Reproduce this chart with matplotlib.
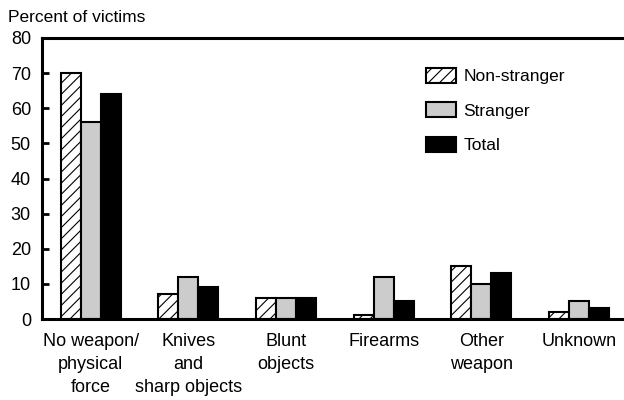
import numpy as np
import matplotlib.pyplot as plt

plt.rcParams['font.family'] = ['Liberation Sans', 'DejaVu Sans']
plt.rcParams['hatch.linewidth'] = 0.8

categories = ['No weapon/\nphysical\nforce', 'Knives\nand\nsharp objects', 'Blunt\nobjects',
              'Firearms', 'Other\nweapon', 'Unknown']
non_stranger = [70, 7, 6, 1, 15, 2]
stranger = [56, 12, 6, 12, 10, 5]
total = [64, 9, 6, 5, 13, 3]

fig = plt.figure(figsize=(6.24, 4), dpi=100)
ax = fig.add_axes([0.0673, 0.2025, 0.9327, 0.7025])

x = np.arange(len(categories))
w = 0.205
ax.bar(x - w, non_stranger, w, color='white', edgecolor='black', hatch='///', linewidth=1.5, label='Non-stranger')
ax.bar(x, stranger, w, color='#cccccc', edgecolor='black', linewidth=1.5, label='Stranger')
ax.bar(x + w, total, w, color='black', edgecolor='black', linewidth=1.5, label='Total')

ax.set_xlim(-0.5, 5.463)
ax.set_ylim(0, 80)
ax.set_yticks(range(0, 81, 10))
ax.set_xticks(x)
ax.set_xticklabels(categories, fontsize=13, linespacing=1.47, va='top')
ax.tick_params(axis='x', length=0, pad=10)
ax.tick_params(axis='y', direction='in', length=5, width=2, labelsize=13, pad=8)
ax.spines['right'].set_visible(False)
for s in ['left', 'top', 'bottom']:
    ax.spines[s].set_linewidth(2.2)

ax.legend(loc='upper left', bbox_to_anchor=(0.633, 0.95), frameon=False, fontsize=12.5,
          handlelength=1.7, handleheight=0.95, labelspacing=1.05, handletextpad=0.45)

fig.text(0.013, 0.957, 'Percent of victims', fontsize=12.5, ha='left', va='center')

fig.savefig('out.png', dpi=100)
